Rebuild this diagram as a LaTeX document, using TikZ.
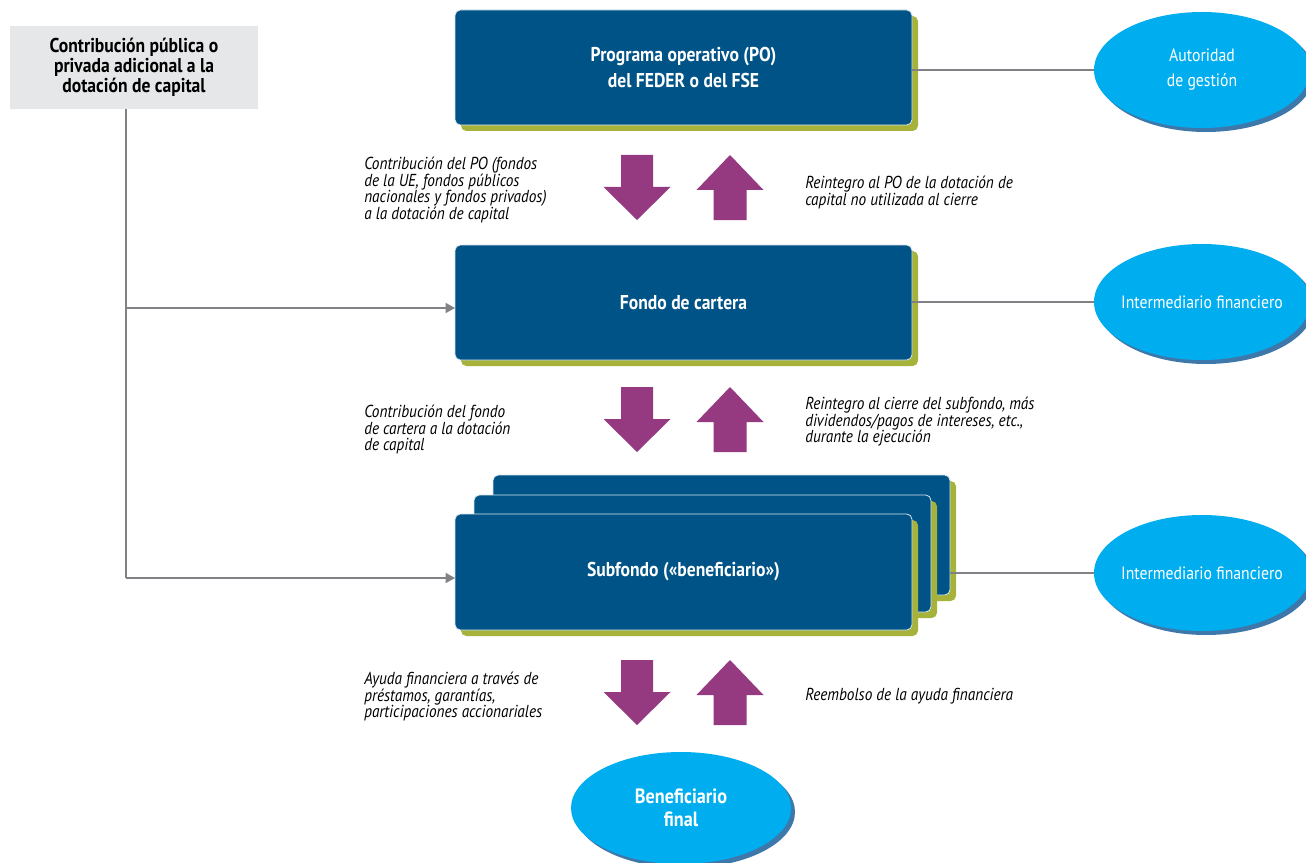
\documentclass[tikz,border=0pt]{standalone}
\usepackage{fontspec}
\setmainfont{PT Sans}[FakeStretch=0.88]
\usetikzlibrary{shapes.geometric,arrows.meta}
\definecolor{boxblue}{RGB}{0,83,134}
\definecolor{olive}{RGB}{166,178,58}
\definecolor{ellblue}{RGB}{0,174,239}
\definecolor{ellshadow}{RGB}{62,120,170}
\definecolor{purp}{RGB}{149,58,128}
\definecolor{lgray}{RGB}{230,231,232}
\definecolor{lineg}{RGB}{128,130,133}
\tikzset{
  bluebox/.style={draw=white!85!boxblue, line width=0.6pt, fill=boxblue, rounded corners=4pt,
    minimum width=342.75pt, minimum height=86.25pt, inner sep=0pt, outer sep=0pt,
    text=white, font=\bfseries\fontsize{15}{19.5}\selectfont, align=center},
  bshadow/.style={fill=olive, rounded corners=4pt},
  ell/.style={ellipse, fill=ellblue, minimum width=162pt, minimum height=87pt, inner sep=0pt, outer sep=0pt,
    text=white, font=\fontsize{13.4}{18.75}\selectfont, align=center},
  eshadow/.style={fill=ellshadow},
  conn/.style={draw=lineg, line width=0.9pt},
  connarr/.style={conn, -{Triangle[length=7pt,width=7.5pt]}},
  lbl/.style={anchor=north west, inner sep=0pt, align=left, font=\itshape\fontsize{13}{12.4}\selectfont},
  purparrow/.style={fill=purp},
}
\newcommand\dnarr[2]{\fill[purparrow] (#1-16,#2) -- (#1+16,#2) -- (#1+16,#2+32) -- (#1+33.5,#2+32) -- (#1,#2+65) -- (#1-33.5,#2+32) -- (#1-16,#2+32) -- cycle;}
\newcommand\uparr[2]{\fill[purparrow] (#1,#2) -- (#1+33.5,#2+35) -- (#1+16.5,#2+35) -- (#1+16.5,#2+65) -- (#1-16.5,#2+65) -- (#1-16.5,#2+35) -- (#1-33.5,#2+35) -- cycle;}
\begin{document}
\begin{tikzpicture}[x=0.75pt,y=-0.75pt]
\clip (0,0) rectangle (1306,863);
\fill[white] (0,0) rectangle (1306,863);

% gray box
\node[fill=lgray, minimum width=186pt, minimum height=62.25pt, inner sep=0pt, align=center,
  font=\bfseries\fontsize{15}{15}\selectfont] (contrib) at (134,67.5)
  {Contribución pública o\\privada adicional a la\\dotación de capital};

% PO box
\fill[bshadow] (461,16) rectangle (918,131);
\node[bluebox] (po) at (683.5,67.5) {Programa operativo (PO)\\del FEDER o del FSE};

% Fondo de cartera
\fill[bshadow] (461,251) rectangle (918,366);
\node[bluebox] (fondo) at (683.5,302.5) {Fondo de cartera};

% Subfondo stack
\fill[bshadow] (499,481) rectangle (956,601);
\node[bluebox, minimum height=90pt] (sub3) at (721.5,535) {};
\fill[bshadow] (480,501) rectangle (937,618);
\node[bluebox, minimum height=87.75pt] (sub2) at (702.5,553.5) {};
\fill[bshadow] (461,520) rectangle (918,636);
\node[bluebox, minimum height=87pt] (sub) at (683.5,572) {Subfondo («beneficiario»)};

% ellipses
\fill[eshadow] (1206,74) ellipse [x radius=108, y radius=58];
\node[ell] (ag) at (1202,70) {Autoridad\\de gestión};
\fill[eshadow] (1206,306) ellipse [x radius=108, y radius=58];
\node[ell] (if1) at (1202,302) {\makebox[0pt]{Intermediario financiero}};
\fill[eshadow] (1206,577) ellipse [x radius=108, y radius=58];
\node[ell] (if2) at (1202,573) {\makebox[0pt]{Intermediario financiero}};
\fill[eshadow] (685,812) ellipse [x radius=110, y radius=56];
\node[ell, minimum width=165pt, minimum height=84pt, font=\bfseries\fontsize{15.5}{17}\selectfont] (bf) at (681,808) {Beneficiario\\final};

% connectors
\coordinate (c0) at (126,109);
\coordinate (j1) at (126,308);
\coordinate (j2) at (126,578);
\draw[conn] (c0) -- (j2);
\draw[connarr] (j1) -- (fondo.west |- j1);
\draw[connarr] (j2) -- (sub.west |- j2);
\draw[conn] (ag.west -| po.east) -- (ag.west);
\draw[conn] (if1.west -| fondo.east) -- (if1.west);
\draw[conn] (if2.west -| sub3.east) -- (if2.west);

% purple arrows
\dnarr{637}{155}
\uparr{730}{155}
\dnarr{637}{387}
\uparr{730}{387}
\dnarr{637}{660}
\uparr{730}{660}

% labels
\node[lbl] (l1) at (364,157) {Contribución del PO (fondos\\de la UE, fondos públicos\\nacionales y fondos privados)\\a la dotación de capital};
\node[lbl] (r1) at (805,176) {Reintegro al PO de la dotación de\\capital no utilizada al cierre};
\node[lbl] (l2) at (364,405) {Contribución del fondo\\de cartera a la dotación\\de capital};
\node[lbl] (r2) at (805,397) {Reintegro al cierre del subfondo, más\\dividendos/pagos de intereses, etc.,\\durante la ejecución};
\node[lbl] (l3) at (364,672) {Ayuda financiera a través de\\préstamos, garantías,\\participaciones accionariales};
\node[lbl] (r3) at (805,688) {Reembolso de la ayuda financiera};
\end{tikzpicture}
\end{document}
